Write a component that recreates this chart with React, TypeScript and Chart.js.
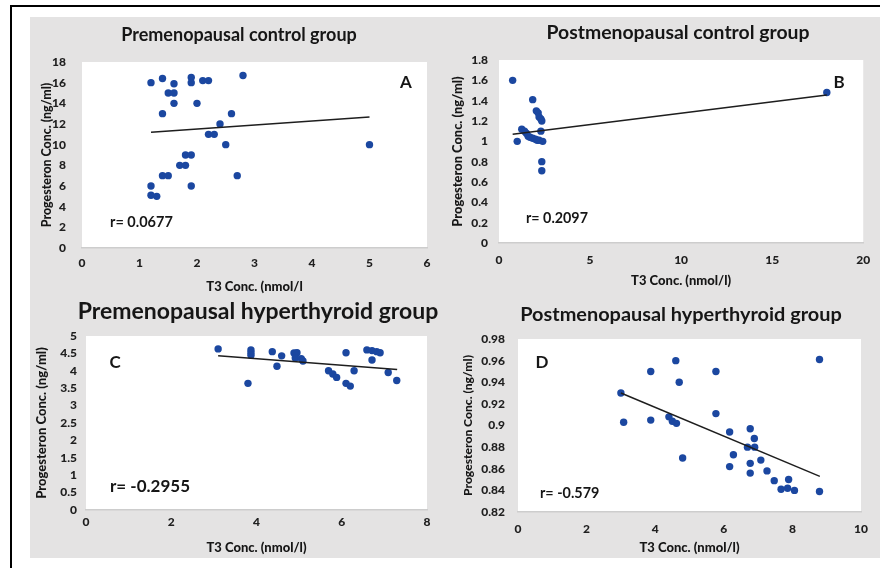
import React, { useEffect, useRef } from 'react';
import { Chart, registerables } from 'chart.js';

Chart.register(...registerables);

const FONT = "Lato, 'Open Sans', 'DejaVu Sans', sans-serif";
const DOT = '#1b47a0';
const INK = '#161616';
const HEAVY = '900';

// Panel A – Premenopausal control group
const aX = [1.2, 1.4, 1.6, 1.5, 1.6, 1.6, 1.4, 1.9, 1.9, 2.1, 2.2, 2.8, 2.0, 2.6, 2.4, 2.2, 2.3, 2.5, 5.0, 1.8, 1.9, 1.7, 1.8, 1.4, 1.5, 2.7, 1.2, 1.9, 1.2, 1.3];
const aY = [16, 16.4, 15.9, 15, 15, 14, 13, 16.5, 16, 16.2, 16.2, 16.7, 14, 13, 12, 11, 11, 10, 10, 9, 9, 8, 8, 7, 7, 7, 6, 6, 5.1, 5];
const aTrendX = [1.2, 5.0];
const aTrendY = [11.2, 12.67];

// Panel B – Postmenopausal control group
const bX = [0.75, 1.0, 1.85, 2.05, 2.15, 2.2, 2.3, 2.35, 1.25, 1.4, 1.5, 1.6, 1.7, 1.85, 2.0, 2.1, 2.2, 2.4, 2.3, 2.35, 2.35, 18];
const bY = [1.6, 1.0, 1.41, 1.3, 1.28, 1.24, 1.22, 1.2, 1.12, 1.1, 1.08, 1.05, 1.04, 1.03, 1.02, 1.01, 1.01, 1.0, 1.1, 0.8, 0.71, 1.48];
const bTrendX = [0.75, 18];
const bTrendY = [1.07, 1.455];

// Panel C – Premenopausal hyperthyroid group
const cX = [3.1, 3.87, 3.87, 3.87, 4.37, 4.48, 4.59, 4.88, 4.95, 4.91, 5.09, 5.05, 3.8, 5.69, 5.79, 5.88, 6.1, 6.1, 6.2, 6.29, 6.59, 6.71, 6.82, 6.9, 6.71, 7.09, 7.29];
const cY = [4.63, 4.6, 4.52, 4.45, 4.55, 4.13, 4.43, 4.51, 4.52, 4.37, 4.28, 4.35, 3.64, 4.0, 3.91, 3.81, 4.52, 3.64, 3.56, 4.0, 4.6, 4.58, 4.55, 4.52, 4.31, 3.95, 3.72];
const cTrendX = [3.1, 7.3];
const cTrendY = [4.43, 4.04];

// Panel D – Postmenopausal hyperthyroid group
const dX = [3.0, 3.08, 3.87, 3.87, 4.6, 4.7, 4.4, 4.5, 4.62, 4.8, 5.77, 5.77, 6.17, 6.28, 6.17, 6.77, 6.89, 6.69, 6.9, 6.77, 6.77, 7.08, 7.26, 7.47, 7.89, 7.67, 7.86, 8.06, 8.79, 8.79];
const dY = [0.93, 0.903, 0.95, 0.905, 0.96, 0.94, 0.908, 0.904, 0.902, 0.87, 0.95, 0.911, 0.894, 0.873, 0.862, 0.897, 0.888, 0.88, 0.88, 0.865, 0.856, 0.868, 0.858, 0.849, 0.85, 0.841, 0.842, 0.84, 0.961, 0.839];
const dTrendX = [3.0, 8.8];
const dTrendY = [0.93, 0.853];

const titles = [
  'Premenopausal control group',
  'Postmenopausal control group',
  'Premenopausal hyperthyroid group',
  'Postmenopausal hyperthyroid group',
];
const letters = ['A', 'B', 'C', 'D'];
const rLabels = ['r= 0.0677', 'r= 0.2097', 'r= -0.2955', 'r= -0.579'];
const xTitles = ['T3 Conc. (nmol/l', 'T3 Conc. (nmol/l)', 'T3 Conc. (nmol/l)', 'T3 Conc. (nmol/l)'];
const yTitle = 'Progesteron Conc. (ng/ml)';

const pairs = (xs: number[], ys: number[]) => xs.map((x, i) => ({ x, y: ys[i] }));
const fmt = (v: any) => String(Number(Number(v).toFixed(4)));

type Spec = {
  pts: { x: number; y: number }[];
  trend: { x: number; y: number }[];
  xMin: number; xMax: number; xStep: number;
  yMin: number; yMax: number; yStep: number;
  title: string; letter: string; r: string; xTitle: string;
  cx: number; cy: number; cw: number; ch: number;
  L: number; T: number; R: number; B: number;
  yTickRight: number; xTickY: number;
  yTitleX: number; yTitleSize: number; xTitleY: number; xTitleSize: number;
  titleX: number; titleY: number; titleSize: number;
  letterX: number; letterY: number; letterSize: number;
  rX: number; rY: number; rSize: number;
};

const specs: Spec[] = [
  {
    pts: pairs(aX, aY), trend: pairs(aTrendX, aTrendY),
    xMin: 0, xMax: 6, xStep: 1, yMin: 0, yMax: 18, yStep: 2,
    title: titles[0], letter: letters[0], r: rLabels[0], xTitle: xTitles[0],
    cx: 30, cy: 17, cw: 410, ch: 283, L: 82, T: 62, R: 427, B: 248,
    yTickRight: 66, xTickY: 263, yTitleX: 47, yTitleSize: 12.4, xTitleY: 287, xTitleSize: 13,
    titleX: 239, titleY: 35, titleSize: 18,
    letterX: 406, letterY: 83, letterSize: 17,
    rX: 110, rY: 222, rSize: 14.5,
  },
  {
    pts: pairs(bX, bY), trend: pairs(bTrendX, bTrendY),
    xMin: 0, xMax: 20, xStep: 5, yMin: 0, yMax: 1.8, yStep: 0.2,
    title: titles[1], letter: letters[1], r: rLabels[1], xTitle: xTitles[1],
    cx: 440, cy: 17, cw: 440, ch: 283, L: 499, T: 60, R: 865, B: 243,
    yTickRight: 488, xTickY: 260, yTitleX: 458, yTitleSize: 12.9, xTitleY: 281, xTitleSize: 13,
    titleX: 678, titleY: 33, titleSize: 19.4,
    letterX: 839, letterY: 83, letterSize: 17,
    rX: 526, rY: 218, rSize: 14.3,
  },
  {
    pts: pairs(cX, cY), trend: pairs(cTrendX, cTrendY),
    xMin: 0, xMax: 8, xStep: 2, yMin: 0, yMax: 5, yStep: 0.5,
    title: titles[2], letter: letters[2], r: rLabels[2], xTitle: xTitles[2],
    cx: 30, cy: 300, cw: 410, ch: 258, L: 86, T: 336, R: 427, B: 510,
    yTickRight: 77, xTickY: 522, yTitleX: 42, yTitleSize: 13, xTitleY: 548, xTitleSize: 13,
    titleX: 258, titleY: 312, titleSize: 23,
    letterX: 115, letterY: 363, letterSize: 17,
    rX: 110, rY: 487, rSize: 17,
  },
  {
    pts: pairs(dX, dY), trend: pairs(dTrendX, dTrendY),
    xMin: 0, xMax: 10, xStep: 2, yMin: 0.82, yMax: 0.98, yStep: 0.02,
    title: titles[3], letter: letters[3], r: rLabels[3], xTitle: xTitles[3],
    cx: 440, cy: 300, cw: 440, ch: 258, L: 518, T: 339, R: 861, B: 512,
    yTickRight: 505, xTickY: 529, yTitleX: 468, yTitleSize: 12.1, xTitleY: 548, xTitleSize: 13,
    titleX: 681, titleY: 315, titleSize: 19.9,
    letterX: 542, letterY: 363, letterSize: 17,
    rX: 540, rY: 493, rSize: 14.4,
  },
];

const TICK_SIZE = 12;

function Panel({ s }: { s: Spec }) {
  const ref = useRef<HTMLCanvasElement>(null);
  useEffect(() => {
    const xlh = s.xTitleSize * 1.2;
    const ylh = s.yTitleSize * 1.2;
    const tlh = TICK_SIZE * 1.2;
    const plotBg = {
      id: 'plotBg',
      beforeDraw(chart: any) {
        const { ctx, chartArea: a } = chart;
        ctx.save();
        ctx.fillStyle = '#ffffff';
        ctx.fillRect(a.left, a.top, a.right - a.left, a.bottom - a.top);
        ctx.restore();
      },
    };
    const labels = {
      id: 'panelLabels',
      afterDraw(chart: any) {
        const ctx = chart.ctx;
        ctx.save();
        ctx.fillStyle = INK;
        ctx.textBaseline = 'middle';
        ctx.textAlign = 'center';
        ctx.font = `bold ${s.titleSize}px ${FONT}`;
        ctx.fillText(s.title, s.titleX - s.cx, s.titleY - s.cy);
        ctx.font = `bold ${s.letterSize}px ${FONT}`;
        ctx.fillText(s.letter, s.letterX - s.cx, s.letterY - s.cy);
        ctx.textAlign = 'left';
        ctx.font = `bold ${s.rSize}px ${FONT}`;
        ctx.fillText(s.r, s.rX - s.cx, s.rY - s.cy);
        ctx.restore();
      },
    };
    const tickFont = { family: FONT, size: TICK_SIZE, weight: HEAVY };
    const chart = new Chart(ref.current as HTMLCanvasElement, {
      type: 'scatter',
      data: {
        datasets: [
          {
            type: 'line',
            data: s.trend,
            borderColor: '#1e1e1e',
            borderWidth: 1.5,
            pointRadius: 0,
            fill: false,
          } as any,
          {
            data: s.pts,
            backgroundColor: DOT,
            borderWidth: 0,
            pointRadius: 3.7,
          },
        ],
      },
      options: {
        responsive: false,
        animation: false,
        devicePixelRatio: 1,
        layout: { padding: { left: 0, top: s.T - s.cy, right: s.cx + s.cw - s.R, bottom: 0 } },
        plugins: { legend: { display: false }, tooltip: { enabled: false }, title: { display: false } },
        scales: {
          x: {
            type: 'linear',
            min: s.xMin,
            max: s.xMax,
            afterFit: (sc: any) => { sc.height = s.cy + s.ch - s.B; },
            ticks: {
              stepSize: s.xStep,
              padding: s.xTickY - s.B - tlh / 2,
              color: '#202020',
              font: tickFont,
              maxRotation: 0,
              autoSkip: false,
              callback: fmt,
            },
            grid: { display: false, drawTicks: false },
            border: { display: true, color: '#cdcdcd', width: 1.5 },
            title: {
              display: true,
              text: s.xTitle,
              color: INK,
              font: { family: FONT, size: s.xTitleSize, weight: HEAVY },
              padding: { top: 0, bottom: s.cy + s.ch - s.xTitleY - xlh / 2 },
            },
          },
          y: {
            type: 'linear',
            min: s.yMin,
            max: s.yMax,
            afterFit: (sc: any) => { sc.width = s.L - s.cx; },
            ticks: {
              stepSize: s.yStep,
              padding: s.L - s.yTickRight,
              color: '#202020',
              font: tickFont,
              autoSkip: false,
              callback: fmt,
            },
            grid: { display: false, drawTicks: false },
            border: { display: false },
            title: {
              display: true,
              text: yTitle,
              color: INK,
              font: { family: FONT, size: s.yTitleSize, weight: HEAVY },
              padding: { top: s.yTitleX - s.cx - ylh / 2, bottom: 0 },
            },
          },
        },
      } as any,
      plugins: [plotBg, labels],
    });
    return () => chart.destroy();
  }, [s]);
  return (
    <canvas
      ref={ref}
      width={s.cw}
      height={s.ch}
      style={{ position: 'absolute', left: s.cx, top: s.cy, width: s.cw, height: s.ch }}
    />
  );
}

export default function App() {
  return (
    <div style={{ position: 'fixed', left: 0, top: 0, width: 880, height: 568, overflow: 'hidden', background: '#ffffff' }}>
      <div style={{ position: 'absolute', left: 10, top: 5, width: 900, height: 600, border: '2px solid #000', boxSizing: 'border-box' }} />
      <div style={{ position: 'absolute', left: 30, top: 17, width: 850, height: 541, background: '#e4e3e3' }} />
      {specs.map((s, i) => (
        <Panel key={i} s={s} />
      ))}
    </div>
  );
}
